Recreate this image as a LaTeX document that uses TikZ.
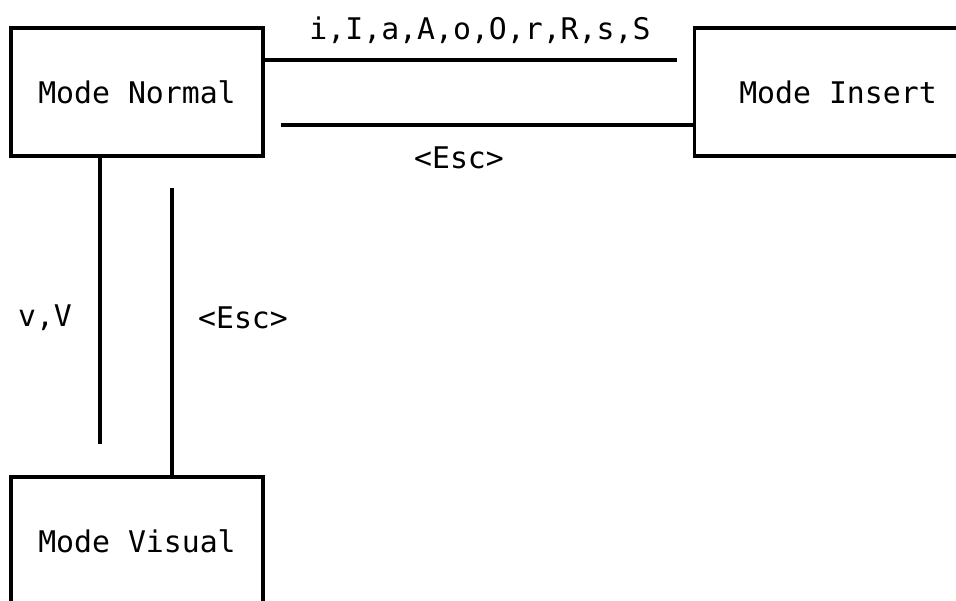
\documentclass[tikz,border=0pt]{standalone}
\usepackage{fontspec}
\setmonofont{DejaVu Sans Mono}
\usepackage{tikz}
\usetikzlibrary{calc}

\begin{document}
\begin{tikzpicture}[x=0.025cm,y=-0.025cm,
  modeBox/.style={draw,line width=2.7pt,inner sep=0pt,minimum height=3.2cm,font=\ttfamily\fontsize{21.2}{25}\selectfont},
  modeLine/.style={line width=2.7pt},
  modeLabel/.style={inner sep=0pt,font=\ttfamily\fontsize{21.2}{25}\selectfont}]
\useasboundingbox (0,0) rectangle (956,600);
\clip (0,0) rectangle (956,600);
\node[modeBox,minimum width=6.3cm] (normalMode) at (137,92) {Mode Normal};
\node[modeBox,minimum width=7.175cm] (insertMode) at (838,92) {Mode Insert};
\node[modeBox,minimum width=6.3cm] (visualMode) at (137,541) {Mode Visual};
\coordinate (toInsertEnd) at (677,60);
\coordinate (toNormalStart) at (281,125);
\coordinate (toVisualEnd) at (100,444);
\coordinate (toNormalTop) at (172,188);
\draw[modeLine] (toInsertEnd -| normalMode.east) -- (toInsertEnd);
\draw[modeLine] (toNormalStart) -- (toNormalStart -| insertMode.west);
\draw[modeLine] (toVisualEnd |- normalMode.south) -- (toVisualEnd);
\draw[modeLine] (toNormalTop) -- (toNormalTop |- visualMode.north);
\node[modeLabel] (insertKeys) at (480,30) {i,I,a,A,o,O,r,R,s,S};
\node[modeLabel] (insertEsc) at (459,158) {<Esc>};
\node[modeLabel] (visualKeys) at (45,318) {v,V};
\node[modeLabel] (visualEsc) at (243,318) {<Esc>};
\end{tikzpicture}
\end{document}
